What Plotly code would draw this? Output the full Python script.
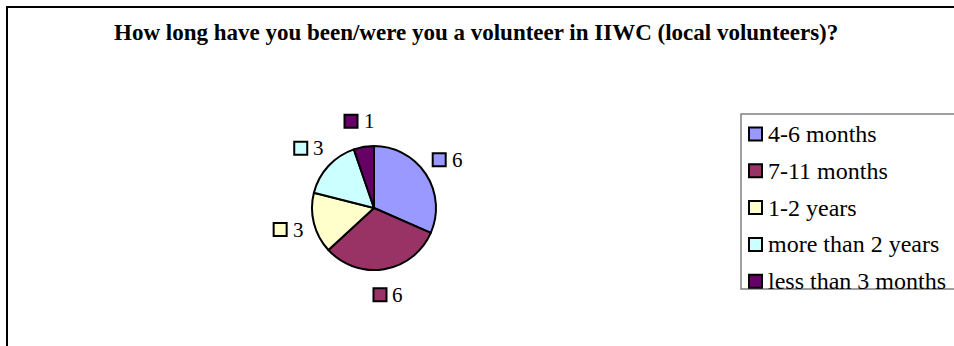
import math
import plotly.graph_objects as go

# Survey answers: length of volunteering (local volunteers)
categories = ["4-6 months", "7-11 months", "1-2 years", "more than 2 years", "less than 3 months"]
counts = [6, 6, 3, 3, 1]
colors = ["#9999FF", "#993366", "#FFFFCC", "#CCFFFF", "#660066"]
title_text = "How long have you been/were you a volunteer in IIWC (local volunteers)?"

W, H = 954, 346
SERIF = "Liberation Serif, Times New Roman, serif"

# pie geometry in pixels
cx, cy, r = 374, 208, 62
label_factor = 1.42


def px(x):
    return x / W


def py(y):
    return 1 - y / H


fig = go.Figure(
    go.Pie(
        labels=categories,
        values=counts,
        sort=False,
        direction="clockwise",
        rotation=0,
        marker=dict(colors=colors, line=dict(color="black", width=2)),
        textinfo="none",
        hoverinfo="label+value",
        showlegend=False,
        domain=dict(x=[px(cx - r), px(cx + r)], y=[py(cy + r), py(cy - r)]),
    )
)

shapes = []
annotations = []

# outer chart frame
shapes.append(dict(type="rect", xref="paper", yref="paper",
                   x0=px(7), x1=px(970), y0=py(7), y1=py(370),
                   line=dict(color="black", width=2), fillcolor="rgba(0,0,0,0)"))

# value labels with colour keys, placed along each slice's mid-angle
total = sum(counts)
cum = 0
for val, col in zip(counts, colors):
    theta = 2 * math.pi * (cum + val / 2) / total
    cum += val
    ax = cx + label_factor * r * math.sin(theta)
    ay = cy - label_factor * r * math.cos(theta)
    shapes.append(dict(type="rect", xref="paper", yref="paper",
                       x0=px(ax - 15), x1=px(ax - 2), y0=py(ay + 6.5), y1=py(ay - 6.5),
                       line=dict(color="black", width=2), fillcolor=col))
    annotations.append(dict(x=px(ax + 2), y=py(ay), xref="paper", yref="paper",
                            text=str(val), showarrow=False, xanchor="left", yanchor="middle",
                            font=dict(family=SERIF, size=21, color="black")))

# legend box
lg_left, lg_top, lg_bottom = 741, 114, 289
shapes.append(dict(type="rect", xref="paper", yref="paper",
                   x0=px(lg_left), x1=px(962), y0=py(lg_bottom), y1=py(lg_top),
                   line=dict(color="#808080", width=1.5), fillcolor="white"))
row0, row_gap = 134, 36.8
for i, (name, col) in enumerate(zip(categories, colors)):
    yc = row0 + i * row_gap
    shapes.append(dict(type="rect", xref="paper", yref="paper",
                       x0=px(749), x1=px(762), y0=py(yc + 6.5), y1=py(yc - 6.5),
                       line=dict(color="black", width=2), fillcolor=col))
    annotations.append(dict(x=px(766), y=py(yc), xref="paper", yref="paper",
                            text=name, showarrow=False, xanchor="left", yanchor="middle",
                            font=dict(family=SERIF, size=24, color="black")))

# title
annotations.append(dict(x=px(476), y=py(33), xref="paper", yref="paper",
                        text="<b>" + title_text + "</b>", showarrow=False,
                        xanchor="center", yanchor="middle",
                        font=dict(family=SERIF, size=23, color="black")))

fig.update_layout(
    width=W, height=H,
    margin=dict(l=0, r=0, t=0, b=0),
    paper_bgcolor="white", plot_bgcolor="white",
    shapes=shapes, annotations=annotations,
)

fig.write_html("out.html")
